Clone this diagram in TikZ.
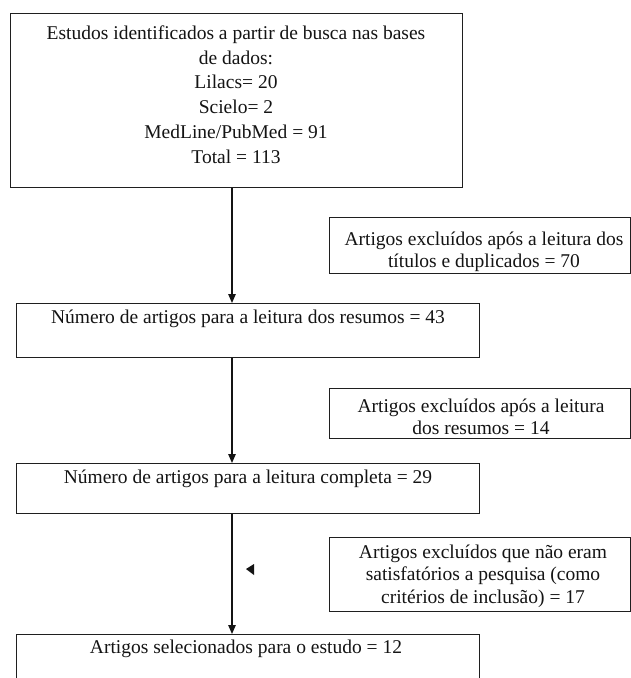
\documentclass[tikz,border=0pt]{standalone}
\usepackage{fontspec}
\setmainfont{Liberation Serif}
\usetikzlibrary{arrows.meta}
\newcommand\mystrutA{\rule{0pt}{20pt}}
\begin{document}
\begin{tikzpicture}[x=1pt,y=-1pt,
  box/.style={draw=black!88, line width=1.2pt, anchor=north west, inner sep=0pt},
  bigtxt/.style={font=\fontsize{19.5}{24.8}\selectfont, align=center, inner sep=0pt, anchor=north, text=black!92},
  smalltxt/.style={font=\fontsize{19.5}{22.4}\selectfont, align=center, inner sep=0pt, anchor=north, text=black!92},
  arr/.style={draw=black!92, line width=1.2pt, -{Triangle[length=9pt,width=7.5pt]}}]
\useasboundingbox[fill=white] (0,0) rectangle (631,678);

% main boxes
\node[box, minimum width=452pt, minimum height=174pt] (b1) at (10,13) {};
\node[box, minimum width=463pt, minimum height=54pt] (b2) at (16,303) {};
\node[box, minimum width=463pt, minimum height=50pt] (b3) at (16,463) {};
\node[box, minimum width=463pt, minimum height=80pt] (b4) at (16,634) {};

% exclusion boxes
\node[box, minimum width=301pt, minimum height=56pt] (e1) at (329,217) {};
\node[box, minimum width=301pt, minimum height=50pt] (e2) at (329,388) {};
\node[box, minimum width=301pt, minimum height=74pt] (e3) at (329,537) {};

% texts (north = first baseline - 20pt)
\node[bigtxt] (t1) at (236,19) {\mystrutA Estudos identificados a partir de busca nas bases\\de dados:\\Lilacs= 20\\Scielo= 2\\MedLine/PubMed = 91\\Total = 113};
\node[bigtxt] (t2) at (248,303) {\mystrutA Número de artigos para a leitura dos resumos = 43};
\node[bigtxt] (t3) at (248,463) {\mystrutA Número de artigos para a leitura completa = 29};
\node[bigtxt] (t4) at (246,633) {\mystrutA Artigos selecionados para o estudo = 12};

\node[smalltxt] (x1) at (484,225) {\mystrutA Artigos excluídos após a leitura dos\\títulos e duplicados = 70};
\node[smalltxt] (x2) at (481,392) {\mystrutA Artigos excluídos após a leitura\\dos resumos = 14};
\node[smalltxt] (x3) at (483,538) {\mystrutA Artigos excluídos que não eram\\satisfatórios a pesquisa (como\\critérios de inclusão) = 17};

% connectors
\coordinate (ax) at (232,0);
\draw[arr] (b1.south -| ax) -- (b2.north -| ax);
\draw[arr] (b2.south -| ax) -- (b3.north -| ax);
\draw[arr] (b3.south -| ax) -- (b4.north -| ax);

% stray arrowhead
\fill[black!92] (246,569) -- (254,564) -- (254,575) -- cycle;
\end{tikzpicture}
\end{document}
